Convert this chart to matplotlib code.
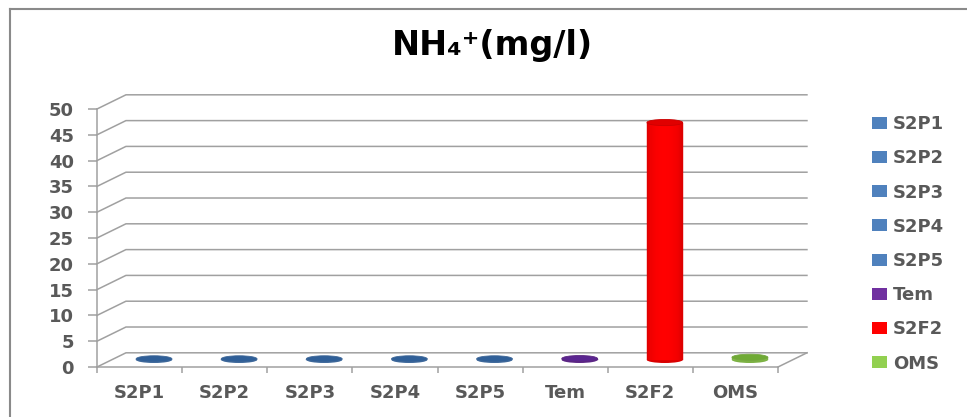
import matplotlib
matplotlib.use("Agg")
import matplotlib.pyplot as plt
import matplotlib.patches as mpatches
import numpy as np
from matplotlib.lines import Line2D

plt.rcParams['font.family'] = ['DejaVu Sans']

categories = ["S2P1", "S2P2", "S2P3", "S2P4", "S2P5", "Tem", "S2F2", "OMS"]
values = [0.2, 0.2, 0.2, 0.2, 0.2, 0.25, 46, 0.5]
colors = ["#4F81BD", "#4F81BD", "#4F81BD", "#4F81BD", "#4F81BD", "#7030A0", "#FF0000", "#92D050"]
top_colors = ["#2f5f98", "#2f5f98", "#2f5f98", "#2f5f98", "#2f5f98", "#5a2590", "#e00000", "#6faa35"]
yticks = list(range(0, 55, 5))

grid_col = "#a0a0a0"
text_col = "#595959"

fig = plt.figure(figsize=(9.67, 4.17), dpi=100)
ax = fig.add_axes([97 / 967, 1 - 367 / 417, 681 / 967, 258 / 417])
ax.set_xlim(0, 8)
ax.set_ylim(0, 50)

# depth of the fake 3d box, in data units
ddx = 0.34
ddy = 2.75

# back wall grid + diagonals on left wall
for v in yticks:
    ax.plot([0, ddx, 8 + ddx], [v, v + ddy, v + ddy], color=grid_col, lw=1.1,
            clip_on=False, zorder=1)
# right floor edge
ax.plot([8, 8 + ddx], [0, ddy], color=grid_col, lw=1.1, clip_on=False, zorder=1)


def cylinder(xc, v, col, topc, w=0.42, eh=1.2):
    base = ddy / 2
    rgb = np.array(matplotlib.colors.to_rgb(col))
    n = 30
    edges = np.linspace(xc - w / 2, xc + w / 2, n + 1)
    for k in range(n):
        t = (k + 0.5) / n
        shade = 0.8 + 0.2 * np.sin(np.pi * t) ** 0.35
        c = np.clip(rgb * shade, 0, 1)
        ax.add_patch(mpatches.Rectangle((edges[k], base), edges[k + 1] - edges[k], v,
                                        facecolor=c, edgecolor=c, lw=0.3,
                                        clip_on=False, zorder=3))
    ax.add_patch(mpatches.Ellipse((xc, base), w, eh, facecolor=rgb * 0.85,
                                  edgecolor='none', clip_on=False, zorder=2.9))
    ax.add_patch(mpatches.Ellipse((xc, base + v), w, eh, facecolor=topc,
                                  edgecolor=np.clip(rgb * 0.8, 0, 1), lw=0.6,
                                  clip_on=False, zorder=4))


for i, (v, c, tc) in enumerate(zip(values, colors, top_colors)):
    cylinder(i + 0.5 + ddx / 2, v, c, tc)

for s in ["top", "right"]:
    ax.spines[s].set_visible(False)
for s in ["left", "bottom"]:
    ax.spines[s].set_color(grid_col)
    ax.spines[s].set_linewidth(1.1)

ax.set_yticks(yticks)
ax.set_xticks(range(9))
ax.set_xticklabels([])
ax.set_xticks(np.arange(8) + 0.5, minor=True)
ax.set_xticklabels(categories, minor=True)
ax.tick_params(axis='y', direction='out', length=6.5, width=1.1, color=grid_col,
               labelcolor=text_col, labelsize=13, pad=10)
ax.tick_params(axis='x', which='major', direction='out', length=4.5, width=1.1,
               color=grid_col)
ax.tick_params(axis='x', which='minor', length=0, labelcolor=text_col,
               labelsize=13, pad=12)
for lab in ax.get_yticklabels() + ax.get_xticklabels(minor=True):
    lab.set_fontweight('bold')
ax.patch.set_visible(False)

fig.text(492 / 967, 1 - 46 / 417, "NH\u2084\u207a(mg/l)", ha='center', va='center',
         fontsize=24, fontweight='bold', color='black')

handles = [mpatches.Patch(facecolor=c, edgecolor='none') for c in colors]
leg = fig.legend(handles, categories, loc='upper left',
                 bbox_to_anchor=(872 / 967, 1 - 115 / 417), frameon=False,
                 borderpad=0, borderaxespad=0, handlelength=0.85, handleheight=0.65,
                 handletextpad=0.3, labelspacing=0.9, fontsize=13)
for t in leg.get_texts():
    t.set_color(text_col)
    t.set_fontweight('bold')

# chart frame (top and left edges visible)
fig.add_artist(Line2D([10 / 967, 1], [1 - 9 / 417, 1 - 9 / 417], color='#8a8a8a', lw=1.5))
fig.add_artist(Line2D([10 / 967, 10 / 967], [0, 1 - 9 / 417], color='#8a8a8a', lw=1.5))

fig.savefig("out.png", dpi=100)
